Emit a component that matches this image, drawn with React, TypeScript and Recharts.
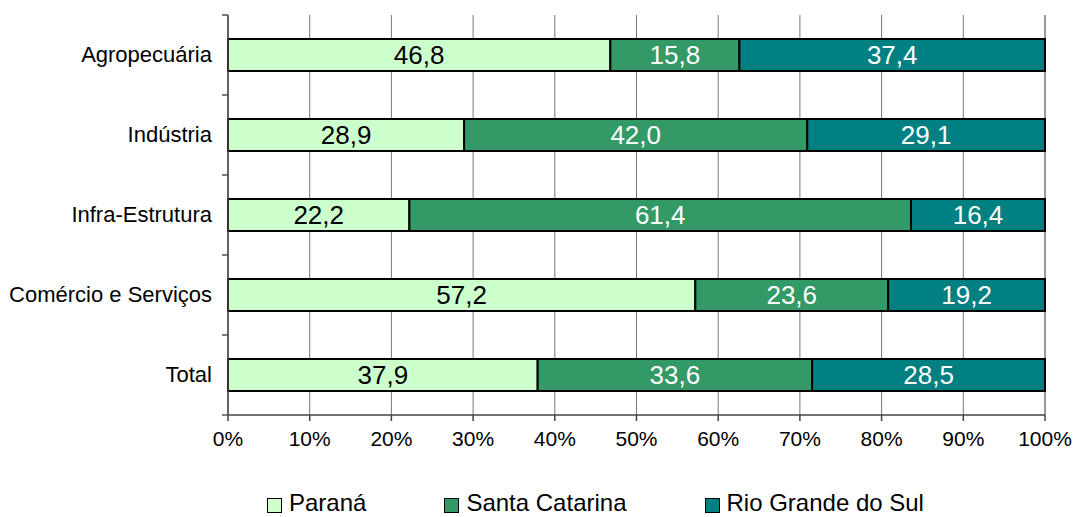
import React from 'react';
import { BarChart, Bar, XAxis, YAxis, CartesianGrid, LabelList } from 'recharts';

const categories = ['Agropecuária', 'Indústria', 'Infra-Estrutura', 'Comércio e Serviços', 'Total'];
const parana = [46.8, 28.9, 22.2, 57.2, 37.9];
const santaCatarina = [15.8, 42.0, 61.4, 23.6, 33.6];
const rioGrande = [37.4, 29.1, 16.4, 19.2, 28.5];
const xTicks = [0, 10, 20, 30, 40, 50, 60, 70, 80, 90, 100];

const seriesNames = ['Paraná', 'Santa Catarina', 'Rio Grande do Sul'];
const seriesKeys = ['pr', 'sc', 'rs'];
const colors = ['#CCFFCC', '#339966', '#008080'];
const labelColors = ['#000000', '#FFFFFF', '#FFFFFF'];

const data = categories.map((c, i) => ({ name: c, pr: parana[i], sc: santaCatarina[i], rs: rioGrande[i] }));

const FONT = '"Liberation Sans", Arial, sans-serif';
const W = 1074;
const H = 517;
const M = { top: 15, right: 29, left: 0, bottom: 62 };
const X_AXIS_H = 40;
const Y_AXIS_W = 228;
const PLOT_H = H - M.top - M.bottom - X_AXIS_H;
const BAND = PLOT_H / categories.length;

const fmt = (v: any) => Number(v).toFixed(1).replace('.', ',');

const YTick = (props: any) => {
  const { y, payload, index } = props;
  const axisX = M.left + Y_AXIS_W;
  return (
    <g>
      <line x1={axisX - 6} x2={axisX} y1={y - BAND / 2} y2={y - BAND / 2} stroke="#555" strokeWidth={1.5} />
      {index === categories.length - 1 && (
        <line x1={axisX - 6} x2={axisX} y1={y + BAND / 2} y2={y + BAND / 2} stroke="#555" strokeWidth={1.5} />
      )}
      <text x={axisX - 16} y={y} dy={7} textAnchor="end" fontSize={22} fontFamily={FONT} fill="#000">
        {payload.value}
      </text>
    </g>
  );
};

export default function App() {
  return (
    <div style={{ position: 'absolute', left: 0, top: 0, width: W, height: H, background: '#fff', fontFamily: FONT, overflow: 'hidden' }}>
      <BarChart width={W} height={H} data={data} layout="vertical" margin={M} barSize={32}>
        <CartesianGrid horizontal={false} stroke="#777" strokeWidth={1} />
        <XAxis
          type="number"
          domain={[0, 100]}
          ticks={xTicks}
          tickFormatter={(v: any) => `${v}%`}
          height={X_AXIS_H}
          interval={0}
          axisLine={{ stroke: '#444', strokeWidth: 1.5 }}
          tickLine={{ stroke: '#444', strokeWidth: 1.5 }}
          tickSize={6}
          tickMargin={10}
          tick={{ fontSize: 21, fill: '#000', fontFamily: FONT }}
        />
        <XAxis
          xAxisId="top"
          orientation="top"
          type="number"
          domain={[0, 100]}
          height={0}
          tick={false}
          tickLine={false}
          axisLine={{ stroke: '#888', strokeWidth: 1.5 }}
        />
        <YAxis
          type="category"
          dataKey="name"
          width={Y_AXIS_W}
          tickLine={false}
          axisLine={{ stroke: '#444', strokeWidth: 1.5 }}
          tick={<YTick />}
          interval={0}
        />
        {seriesKeys.map((k, i) => (
          <Bar key={k} dataKey={k} name={seriesNames[i]} stackId="a" fill={colors[i]} stroke="#000" strokeWidth={2} isAnimationActive={false}>
            <LabelList dataKey={k} position="center" formatter={fmt} fill={labelColors[i]} fontSize={26} fontFamily={FONT} />
          </Bar>
        ))}
      </BarChart>
      <div style={{ position: 'absolute', left: 267, top: 489, display: 'flex', alignItems: 'center', fontSize: 24, fontFamily: FONT, whiteSpace: 'nowrap', lineHeight: '28px' }}>
        {seriesNames.map((n, i) => (
          <div key={n} style={{ display: 'flex', alignItems: 'center', marginRight: 78 }}>
            <span style={{ display: 'inline-block', width: 13, height: 13, background: colors[i], border: '1.5px solid #000', marginRight: 7, marginTop: 4 }} />
            <span>{n}</span>
          </div>
        ))}
      </div>
    </div>
  );
}
